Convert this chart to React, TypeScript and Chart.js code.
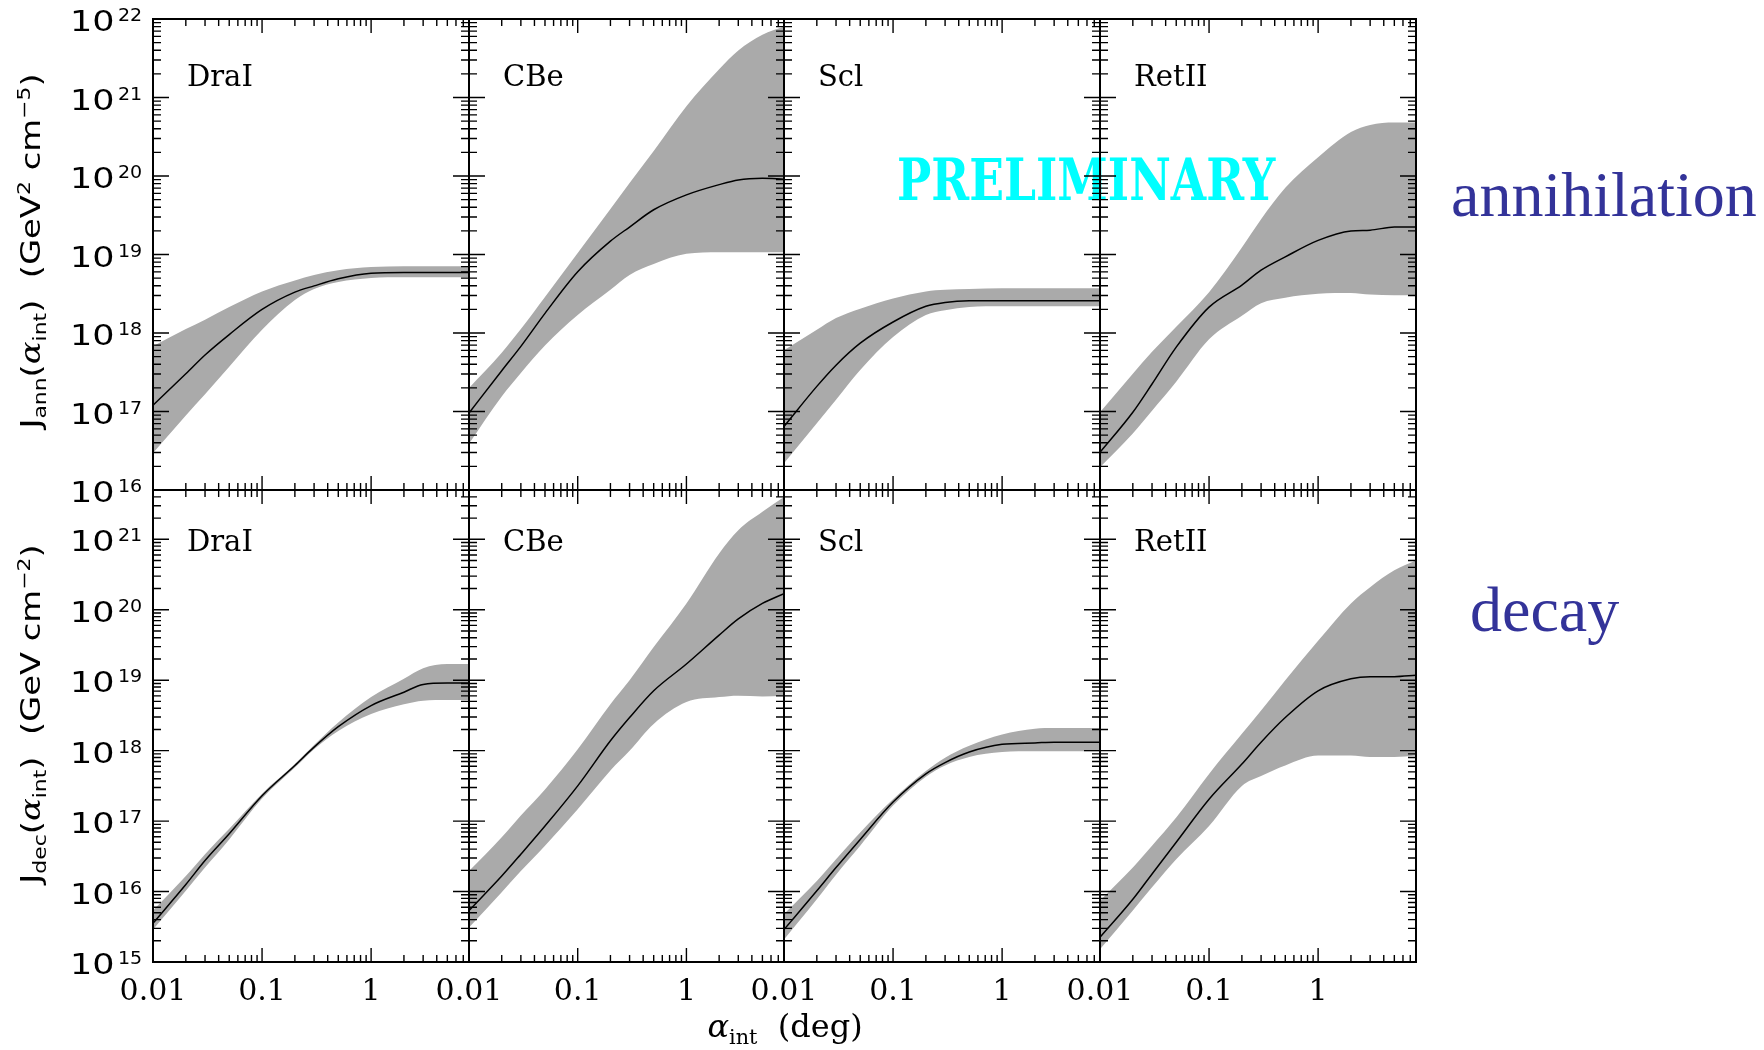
import React, { useEffect, useRef } from 'react';
import { Chart, registerables } from 'chart.js';

Chart.register(...registerables);

// ---------------- data ----------------
// x: integration angle alpha_int in degrees
const ALPHA_DEG = [0.01, 0.02, 0.03, 0.05, 0.1, 0.2, 0.3, 0.5, 1, 2, 3, 5, 7.9];
const X_MIN = 0.01;
const X_MAX = 7.9;
const X_TICK_LABELS = ['0.01', '0.1', '1'];
const X_TICK_VALUES = [0.01, 0.1, 1];
const X_TICK_DECADES = [0.01, 0.1, 1];
const MANTISSAS = [1, 2, 3, 4, 5, 6, 7, 8, 9];

const GALAXIES = ['DraI', 'CBe', 'Scl', 'RetII'];

// y ranges (log10 of J)
const ANN_Y_LOG_RANGE = [16, 22];
const DEC_Y_LOG_RANGE = [15, 21.7];
const ANN_Y_LABEL_EXPS = [16, 17, 18, 19, 20, 21, 22];
const DEC_Y_LABEL_EXPS = [15, 16, 17, 18, 19, 20, 21];
const ANN_Y_TICK_EXPS = [16, 17, 18, 19, 20, 21];
const DEC_Y_TICK_EXPS = [15, 16, 17, 18, 19, 20, 21];

// ---- annihilation, log10 J_ann (GeV^2 cm^-5): median / upper / lower ----
const DRAI_ANN_MED = [17.08, 17.48, 17.72, 17.98, 18.30, 18.52, 18.60, 18.69, 18.76, 18.77, 18.77, 18.77, 18.77];
const DRAI_ANN_HI = [17.83, 18.05, 18.17, 18.33, 18.53, 18.67, 18.74, 18.80, 18.84, 18.85, 18.85, 18.85, 18.85];
const DRAI_ANN_LO = [16.47, 16.95, 17.22, 17.57, 18.04, 18.42, 18.56, 18.65, 18.70, 18.71, 18.71, 18.71, 18.71];

const CBE_ANN_MED = [16.98, 17.52, 17.83, 18.25, 18.78, 19.17, 19.35, 19.57, 19.76, 19.89, 19.95, 19.97, 19.96];
const CBE_ANN_HI = [17.30, 17.75, 18.05, 18.46, 19.02, 19.58, 19.91, 20.32, 20.89, 21.36, 21.60, 21.80, 21.90];
const CBE_ANN_LO = [16.59, 17.19, 17.49, 17.84, 18.23, 18.55, 18.74, 18.88, 19.01, 19.03, 19.03, 19.03, 19.03];

const SCL_ANN_MED = [16.81, 17.32, 17.59, 17.87, 18.14, 18.34, 18.39, 18.41, 18.41, 18.41, 18.41, 18.41, 18.41];
const SCL_ANN_HI = [17.78, 18.04, 18.19, 18.31, 18.44, 18.53, 18.55, 18.56, 18.57, 18.57, 18.57, 18.57, 18.57];
const SCL_ANN_LO = [16.34, 16.85, 17.15, 17.53, 17.95, 18.23, 18.29, 18.33, 18.34, 18.34, 18.34, 18.34, 18.34];

const RETII_ANN_MED = [16.48, 16.99, 17.35, 17.82, 18.33, 18.61, 18.80, 18.97, 19.18, 19.30, 19.31, 19.35, 19.35];
const RETII_ANN_HI = [16.99, 17.48, 17.76, 18.08, 18.52, 19.09, 19.45, 19.85, 20.24, 20.56, 20.65, 20.68, 20.68];
const RETII_ANN_LO = [16.29, 16.72, 17.01, 17.38, 17.92, 18.22, 18.38, 18.45, 18.50, 18.51, 18.49, 18.48, 18.48];

// ---- decay, log10 J_dec (GeV cm^-2): median / upper / lower ----
const DRAI_DEC_MED = [15.55, 16.10, 16.44, 16.82, 17.36, 17.79, 18.05, 18.34, 18.64, 18.83, 18.94, 18.96, 18.96];
const DRAI_DEC_HI = [15.73, 16.22, 16.53, 16.89, 17.39, 17.81, 18.08, 18.40, 18.76, 19.02, 19.17, 19.23, 19.23];
const DRAI_DEC_LO = [15.46, 16.01, 16.34, 16.74, 17.32, 17.76, 18.02, 18.28, 18.52, 18.66, 18.71, 18.72, 18.72];

const CBE_DEC_MED = [15.73, 16.22, 16.53, 16.93, 17.50, 18.14, 18.47, 18.85, 19.23, 19.64, 19.87, 20.09, 20.23];
const CBE_DEC_HI = [16.29, 16.77, 17.08, 17.45, 18.02, 18.66, 19.00, 19.47, 20.09, 20.80, 21.13, 21.39, 21.60];
const CBE_DEC_LO = [15.49, 15.99, 16.29, 16.65, 17.17, 17.72, 18.00, 18.38, 18.69, 18.76, 18.78, 18.77, 18.78];

const SCL_DEC_MED = [15.46, 16.01, 16.34, 16.74, 17.27, 17.67, 17.83, 17.98, 18.09, 18.11, 18.12, 18.12, 18.12];
const SCL_DEC_HI = [15.68, 16.15, 16.46, 16.84, 17.31, 17.71, 17.90, 18.07, 18.23, 18.31, 18.32, 18.32, 18.32];
const SCL_DEC_LO = [15.32, 15.89, 16.24, 16.65, 17.22, 17.63, 17.79, 17.91, 17.98, 17.99, 17.99, 17.99, 17.99];

const RETII_DEC_MED = [15.35, 15.89, 16.25, 16.70, 17.31, 17.81, 18.12, 18.47, 18.85, 19.02, 19.05, 19.05, 19.07];
const RETII_DEC_HI = [15.87, 16.34, 16.65, 17.05, 17.67, 18.24, 18.57, 19.00, 19.56, 20.09, 20.32, 20.56, 20.70];
const RETII_DEC_LO = [15.18, 15.73, 16.06, 16.46, 16.93, 17.50, 17.64, 17.79, 17.93, 17.93, 17.91, 17.91, 17.93];

const ANN_SERIES = [
  [DRAI_ANN_MED, DRAI_ANN_HI, DRAI_ANN_LO],
  [CBE_ANN_MED, CBE_ANN_HI, CBE_ANN_LO],
  [SCL_ANN_MED, SCL_ANN_HI, SCL_ANN_LO],
  [RETII_ANN_MED, RETII_ANN_HI, RETII_ANN_LO],
];
const DEC_SERIES = [
  [DRAI_DEC_MED, DRAI_DEC_HI, DRAI_DEC_LO],
  [CBE_DEC_MED, CBE_DEC_HI, CBE_DEC_LO],
  [SCL_DEC_MED, SCL_DEC_HI, SCL_DEC_LO],
  [RETII_DEC_MED, RETII_DEC_HI, RETII_DEC_LO],
];

// ---------------- layout ----------------
const PAGE_W = 1764;
const PAGE_H = 1050;
const COL_EDGES = [153, 469, 784, 1100, 1416];
const ROW_EDGES = [19, 490, 962];

const BAND = '#aaaaaa';

type PanelCfg = {
  col: number;
  row: number;
  name: string;
  med: number[];
  hi: number[];
  lo: number[];
  yLog: number[];
  yTickExps: number[];
  yLabelExps: number[] | null;
  xLabels: boolean;
  nameDy: number;
};

const toPts = (logs: number[]) => ALPHA_DEG.map((a, i) => ({ x: a, y: Math.pow(10, logs[i]) }));

function makeFramePlugin(p: PanelCfg) {
  return {
    id: 'frame',
    afterDatasetsDraw(chart: any) {
      const { ctx, chartArea: a } = chart;
      const xs = chart.scales.x;
      const ys = chart.scales.y;
      ctx.save();
      ctx.strokeStyle = '#000';
      ctx.lineWidth = 1.4;
      ctx.beginPath();
      for (const d of X_TICK_DECADES) {
        for (const m of MANTISSAS) {
          const px = xs.getPixelForValue(m * d);
          if (px <= a.left + 1 || px >= a.right - 1) continue;
          const len = m === 1 ? 14 : 7;
          ctx.moveTo(px, a.top);
          ctx.lineTo(px, a.top + len);
          ctx.moveTo(px, a.bottom);
          ctx.lineTo(px, a.bottom - len);
        }
      }
      for (const e of p.yTickExps) {
        for (const m of MANTISSAS) {
          const py = ys.getPixelForValue(m * Math.pow(10, e));
          if (py <= a.top + 1 || py >= a.bottom - 1) continue;
          const len = m === 1 ? 16 : 8;
          ctx.moveTo(a.left, py);
          ctx.lineTo(a.left + len, py);
          ctx.moveTo(a.right, py);
          ctx.lineTo(a.right - len, py);
        }
      }
      ctx.stroke();
      ctx.lineWidth = 2;
      ctx.strokeRect(a.left, a.top, a.right - a.left, a.bottom - a.top);

      // panel name
      ctx.fillStyle = '#000';
      ctx.textAlign = 'left';
      ctx.textBaseline = 'alphabetic';
      ctx.font = '29px "DejaVu Serif"';
      ctx.fillText(p.name, a.left + 34, a.top + p.nameDy);

      // y tick labels 10^n
      if (p.yLabelExps) {
        for (const e of p.yLabelExps) {
          const py = ys.getPixelForValue(Math.pow(10, e));
          ctx.save();
          ctx.translate(a.left - 83, py + 12);
          ctx.scale(1.25, 1);
          ctx.font = '28px "DejaVu Sans"';
          ctx.fillText('10', 0, 0);
          ctx.restore();
          ctx.save();
          ctx.translate(a.left - 35, py + 2);
          ctx.scale(1.12, 1);
          ctx.font = '17px "DejaVu Sans"';
          ctx.fillText(String(e), 0, 0);
          ctx.restore();
        }
      }
      // x tick labels
      if (p.xLabels) {
        ctx.textAlign = 'center';
        ctx.font = '30px "DejaVu Serif"';
        X_TICK_VALUES.forEach((v, i) => {
          const px = xs.getPixelForValue(v);
          ctx.fillText(X_TICK_LABELS[i], px, a.bottom + 38);
        });
      }
      ctx.restore();
    },
  };
}

function Panel({ p }: { p: PanelCfg }) {
  const ref = useRef<HTMLCanvasElement | null>(null);
  useEffect(() => {
    const left = COL_EDGES[p.col];
    const right = COL_EDGES[p.col + 1];
    const top = ROW_EDGES[p.row];
    const bottom = ROW_EDGES[p.row + 1];
    const chart = new Chart(ref.current as HTMLCanvasElement, {
      type: 'line',
      data: {
        datasets: [
          // median first: Chart.js paints dataset 0 last (on top)
          {
            data: toPts(p.med),
            borderColor: '#000',
            borderWidth: 1.5,
            pointRadius: 0,
            fill: false,
            cubicInterpolationMode: 'monotone',
          },
          {
            data: toPts(p.hi),
            borderColor: 'rgba(0,0,0,0)',
            borderWidth: 0,
            backgroundColor: BAND,
            pointRadius: 0,
            fill: '+1',
            cubicInterpolationMode: 'monotone',
          },
          {
            data: toPts(p.lo),
            borderColor: 'rgba(0,0,0,0)',
            borderWidth: 0,
            pointRadius: 0,
            fill: false,
            cubicInterpolationMode: 'monotone',
          },
        ],
      } as any,
      options: {
        animation: false,
        responsive: false,
        events: [],
        layout: {
          padding: { left, top, right: PAGE_W - right, bottom: PAGE_H - bottom },
        },
        scales: {
          x: { type: 'logarithmic', min: X_MIN, max: X_MAX, display: false },
          y: { type: 'logarithmic', min: Math.pow(10, p.yLog[0]), max: Math.pow(10, p.yLog[1]), display: false },
        },
        plugins: { legend: { display: false }, tooltip: { enabled: false } },
      } as any,
      plugins: [makeFramePlugin(p)],
    });
    return () => chart.destroy();
  }, []);
  return (
    <canvas
      ref={ref}
      width={PAGE_W}
      height={PAGE_H}
      style={{ position: 'absolute', left: 0, top: 0, width: PAGE_W, height: PAGE_H }}
    />
  );
}

const PANELS: PanelCfg[] = [
  ...GALAXIES.map((name, i) => ({
    col: i,
    row: 0,
    name,
    med: ANN_SERIES[i][0],
    hi: ANN_SERIES[i][1],
    lo: ANN_SERIES[i][2],
    yLog: ANN_Y_LOG_RANGE,
    yTickExps: ANN_Y_TICK_EXPS,
    yLabelExps: i === 0 ? ANN_Y_LABEL_EXPS : null,
    xLabels: false,
    nameDy: 67,
  })),
  ...GALAXIES.map((name, i) => ({
    col: i,
    row: 1,
    name,
    med: DEC_SERIES[i][0],
    hi: DEC_SERIES[i][1],
    lo: DEC_SERIES[i][2],
    yLog: DEC_Y_LOG_RANGE,
    yTickExps: DEC_Y_TICK_EXPS,
    yLabelExps: i === 0 ? DEC_Y_LABEL_EXPS : null,
    xLabels: true,
    nameDy: 61,
  })),
];

const sub: React.CSSProperties = { fontSize: '0.65em', verticalAlign: '-0.35em' };
const sup: React.CSSProperties = { fontSize: '0.65em', verticalAlign: '0.55em' };

const yTitleBase: React.CSSProperties = {
  position: 'absolute',
  left: 33,
  transform: 'translate(-50%, -50%) rotate(-90deg) scaleX(1.25)',
  whiteSpace: 'nowrap',
  fontFamily: '"DejaVu Sans"',
  fontSize: 27,
  lineHeight: 1,
  color: '#000',
};

export default function App() {
  return (
    <div
      style={{
        position: 'absolute',
        left: 0,
        top: 0,
        width: PAGE_W,
        height: PAGE_H,
        overflow: 'hidden',
        background: '#fff',
      }}
    >
      <div
        style={{
          position: 'absolute',
          left: 897,
          top: 151,
          fontFamily: '"DejaVu Serif"',
          fontWeight: 'bold',
          fontSize: 57,
          lineHeight: '57px',
          color: '#00ffff',
          transform: 'scaleX(0.80)',
          transformOrigin: 'left top',
          whiteSpace: 'nowrap',
        }}
      >
        PRELIMINARY
      </div>
      {PANELS.map((p, i) => (
        <Panel key={i} p={p} />
      ))}
      <div style={{ ...yTitleBase, top: 251 }}>
        J<span style={sub}>ann</span>(<i style={{ fontFamily: '"DejaVu Serif"' }}>α</i>
        <span style={sub}>int</span>)&nbsp;&nbsp;(GeV<span style={sup}>2</span> cm<span style={sup}>−5</span>)
      </div>
      <div style={{ ...yTitleBase, top: 714 }}>
        J<span style={sub}>dec</span>(<i style={{ fontFamily: '"DejaVu Serif"' }}>α</i>
        <span style={sub}>int</span>)&nbsp;&nbsp;(GeV cm<span style={sup}>−2</span>)
      </div>
      <div
        style={{
          position: 'absolute',
          left: 785,
          top: 1029,
          transform: 'translate(-50%, -50%)',
          whiteSpace: 'nowrap',
          fontFamily: '"DejaVu Serif"',
          fontSize: 32,
          lineHeight: 1,
          color: '#000',
        }}
      >
        <i>α</i>
        <span style={sub}>int</span>&nbsp;&nbsp;(deg)
      </div>
      <div
        style={{
          position: 'absolute',
          left: 1451,
          top: 163,
          fontFamily: '"Liberation Serif"',
          fontSize: 64,
          lineHeight: '64px',
          color: '#333399',
          whiteSpace: 'nowrap',
        }}
      >
        annihilation
      </div>
      <div
        style={{
          position: 'absolute',
          left: 1470,
          top: 578,
          fontFamily: '"Liberation Serif"',
          fontSize: 64,
          lineHeight: '64px',
          color: '#333399',
          whiteSpace: 'nowrap',
        }}
      >
        decay
      </div>
    </div>
  );
}
